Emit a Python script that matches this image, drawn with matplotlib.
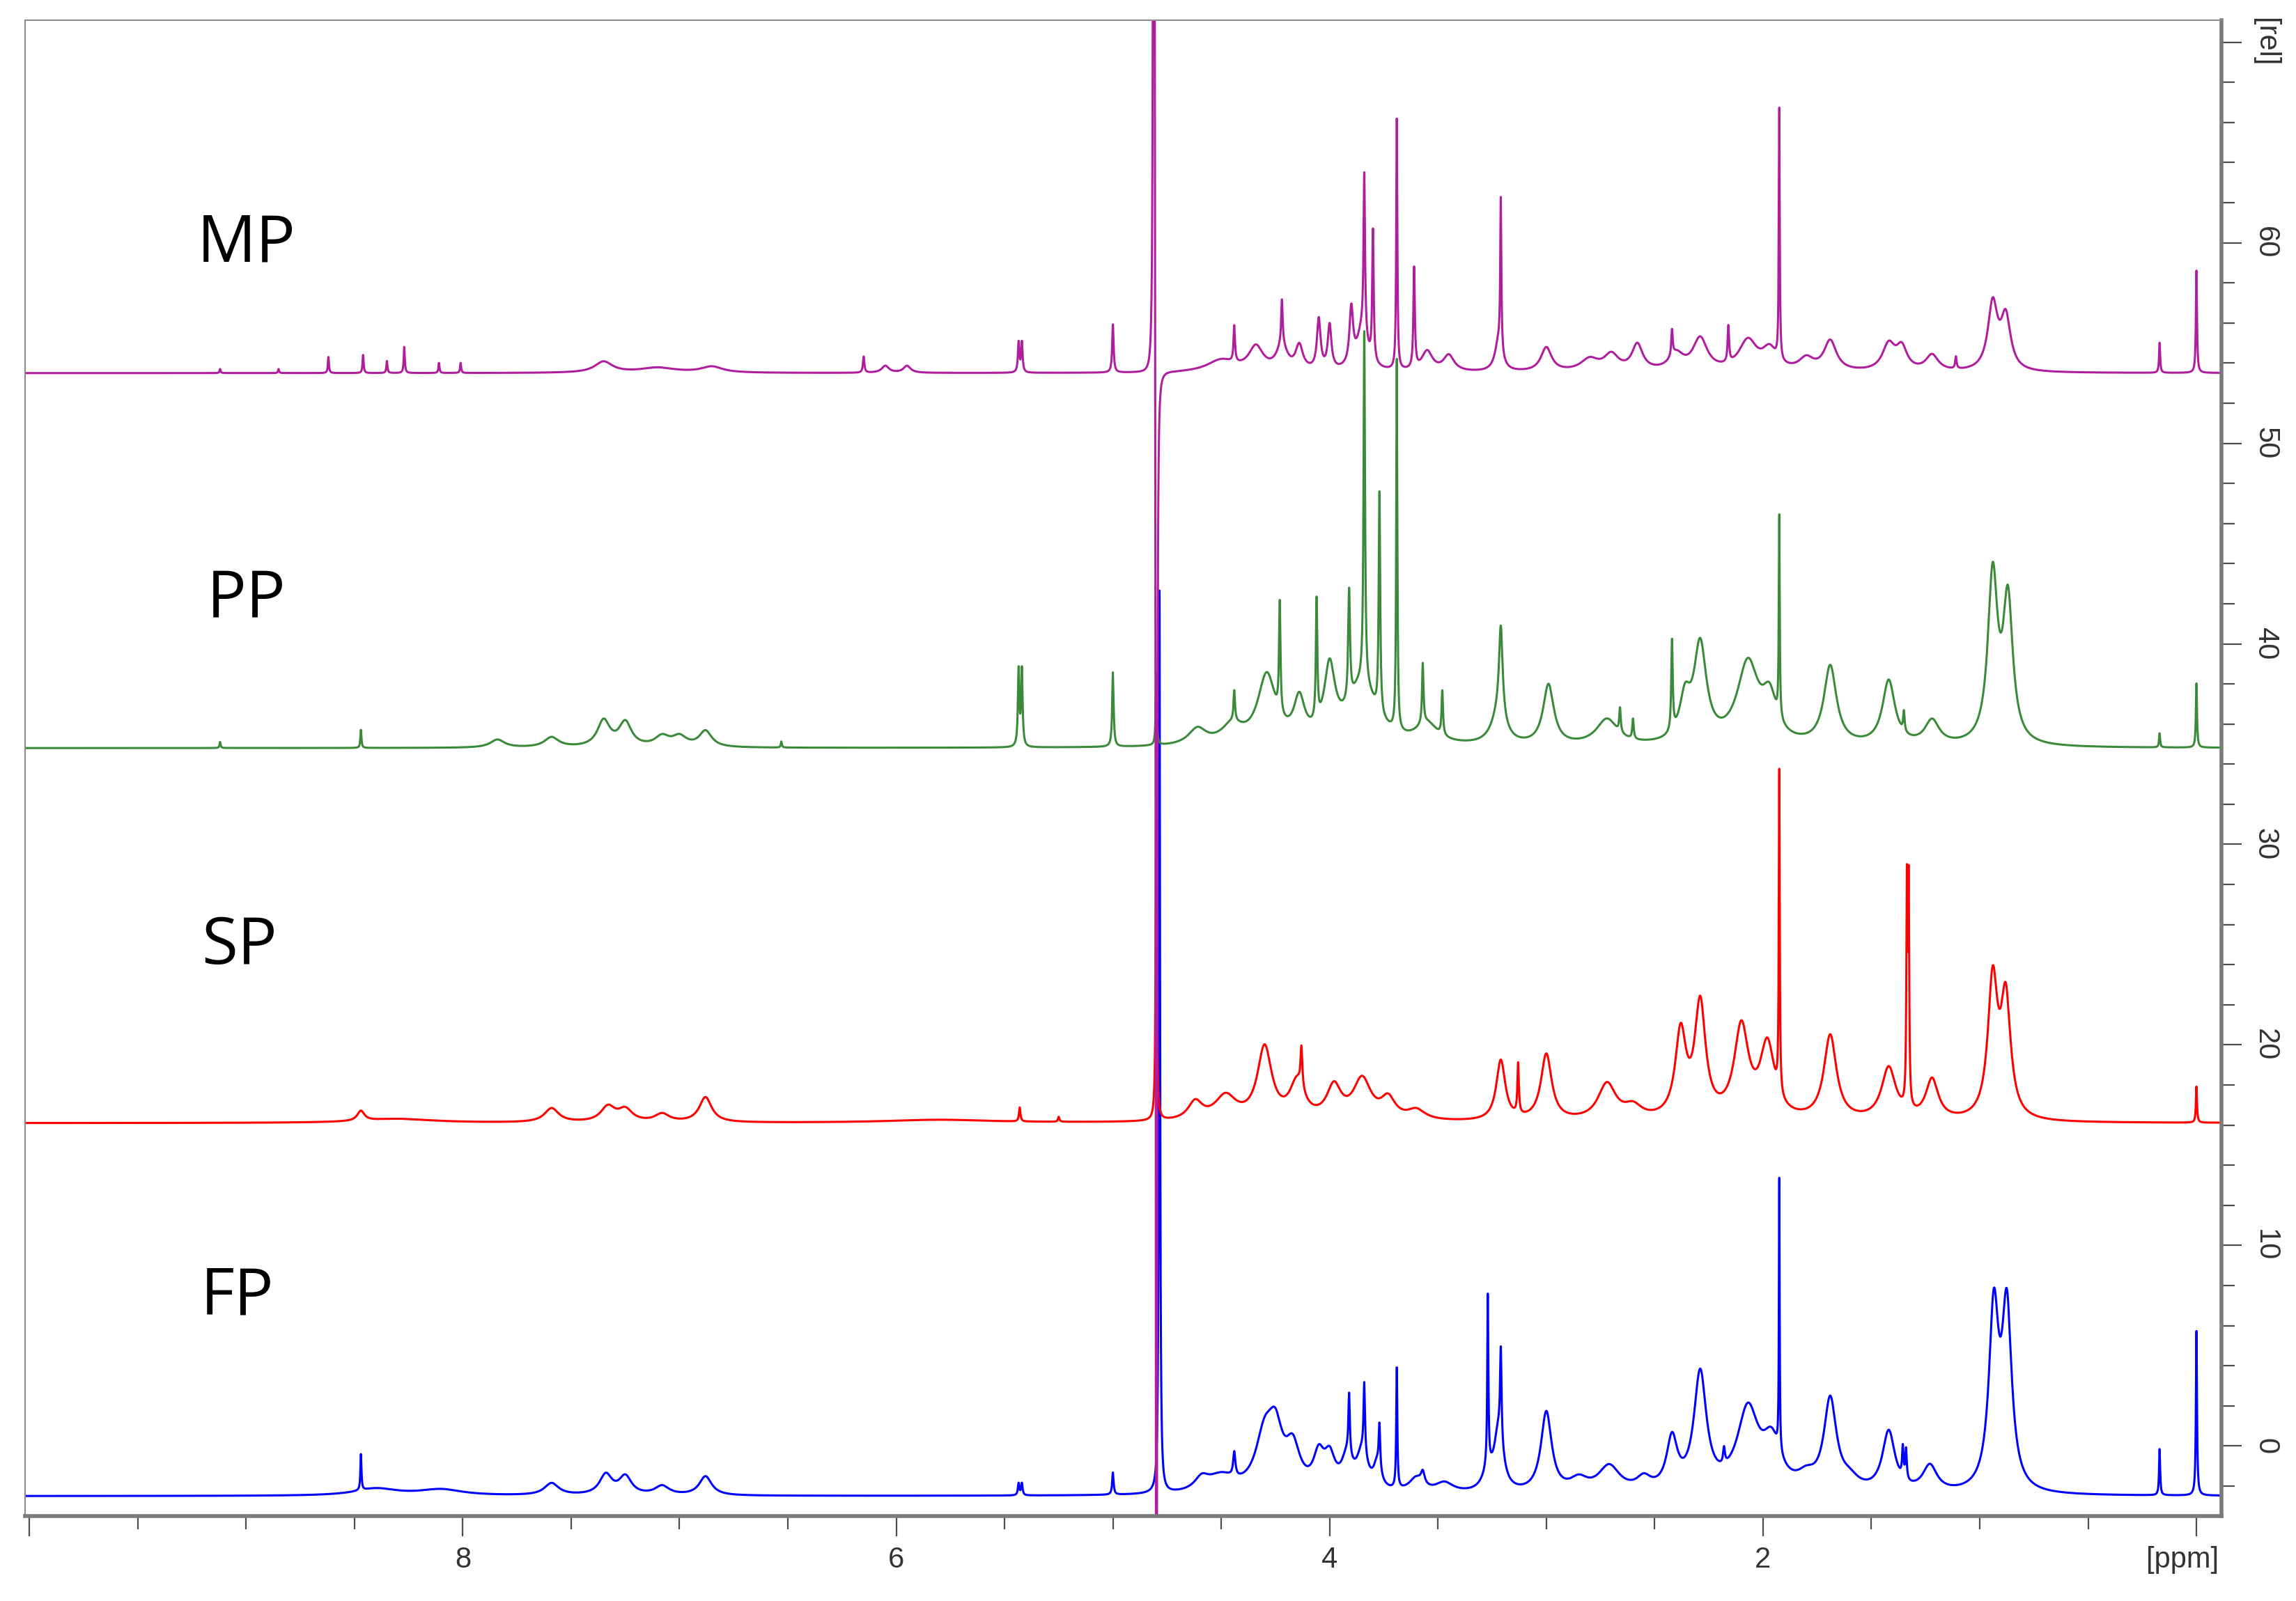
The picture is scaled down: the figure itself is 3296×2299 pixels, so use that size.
'''
Stacked 1H NMR spectra of four extracts (FP, SP, PP, MP) plotted on a
reversed ppm axis with a relative intensity scale on the right.
'''

import numpy as np
import matplotlib
matplotlib.use('Agg')
import matplotlib.pyplot as plt
import matplotlib.ticker as mtk
import matplotlib.transforms as mtr

# sample names, colours and vertical offsets of the stacked traces
samples = ['FP', 'SP', 'PP', 'MP']
colours = ['#0000ff', '#ff0000', '#3a8a3a', '#b01e9e']
offsets = [-2.5, 16.1, 34.8, 53.5]
label_ppm = [9.04, 9.03, 9.0, 9.0]
label_rel = [7.4, 24.9, 42.2, 59.9]

# peak tables: shift (ppm), height (rel), half width (ppm)
fp_ppm = [8.47, 8.40, 8.10, 7.59, 7.34, 7.25, 7.08, 6.88, 5.435, 5.42, 5.00,
          4.785, 4.59, 4.50, 4.44, 4.30, 4.25, 4.17, 4.05, 4.00, 3.92, 3.91,
          3.85, 3.84, 3.78, 3.77, 3.69, 3.60, 3.57, 3.47, 3.27, 3.27, 3.22,
          3.21, 3.00, 2.85, 2.71, 2.55, 2.42, 2.29, 2.18, 2.07, 1.96, 1.925,
          1.80, 1.69, 1.60, 1.42, 1.355, 1.34, 1.23, 0.935, 0.875, 0.17, 0.00]
fp_height = [1.8, 0.35, 0.3, 0.6, 1.0, 0.9, 0.45, 0.95, 0.6, 0.6, 1.1,
             45.0, 0.6, 0.8, 1.2, 2.6, 2.5, 2.0, 1.6, 1.5, 1.5, 3.0,
             1.8, 3.5, 1.2, 2.2, 6.0, 0.7, 0.6, 0.5, 0.8, 8.5, 3.0,
             4.5, 4.0, 0.6, 1.3, 0.6, 2.5, 5.8, 0.8, 4.0, 2.2, 13.5,
             0.6, 4.5, 0.5, 3.0, 1.5, 1.5, 1.3, 8.8, 8.8, 2.3, 8.2]
fp_width = [0.003, 0.12, 0.12, 0.04, 0.035, 0.035, 0.04, 0.035, 0.004, 0.004,
            0.004, 0.003, 0.04, 0.08, 0.006, 0.05, 0.04, 0.04, 0.03, 0.03,
            0.03, 0.004, 0.03, 0.004, 0.02, 0.004, 0.003, 0.04, 0.01, 0.05,
            0.03, 0.003, 0.025, 0.004, 0.03, 0.05, 0.06, 0.04, 0.03, 0.035,
            0.005, 0.06, 0.05, 0.002, 0.05, 0.035, 0.05, 0.035, 0.004, 0.004,
            0.04, 0.027, 0.027, 0.003, 0.003]

sp_ppm = [8.47, 8.30, 7.59, 7.33, 7.25, 7.08, 6.88, 5.80, 5.43, 5.25, 4.80,
          4.62, 4.48, 4.30, 4.15, 4.13, 3.98, 3.85, 3.73, 3.60, 3.21, 3.13,
          3.00, 2.72, 2.60, 2.38, 2.29, 2.10, 1.98, 1.925, 1.69, 1.42, 1.336,
          1.328, 1.22, 0.94, 0.88, 0.00]
sp_height = [0.5, 0.2, 0.7, 0.75, 0.6, 0.4, 1.25, 0.15, 0.7, 0.25, 18.0,
             0.9, 1.2, 3.6, 1.8, 2.0, 1.6, 2.0, 1.0, 0.5, 3.0, 2.5,
             3.3, 1.8, 0.6, 4.2, 5.6, 4.5, 3.6, 16.0, 4.2, 2.6, 10.8,
             10.8, 2.0, 6.8, 5.8, 1.8]
sp_width = [0.02, 0.2, 0.04, 0.04, 0.04, 0.04, 0.035, 0.3, 0.004, 0.004,
            0.003, 0.04, 0.06, 0.04, 0.04, 0.005, 0.04, 0.05, 0.04, 0.05,
            0.025, 0.004, 0.03, 0.05, 0.05, 0.03, 0.03, 0.04, 0.04, 0.0025,
            0.035, 0.04, 0.003, 0.003, 0.035, 0.027, 0.027, 0.003]

pp_ppm = [9.12, 8.47, 7.84, 7.59, 7.35, 7.25, 7.08, 7.00, 6.88, 6.53, 5.435,
          5.42, 5.00, 4.80, 4.61, 4.45, 4.44, 4.29, 4.23, 4.14, 4.06, 4.00,
          3.91, 3.85, 3.84, 3.77, 3.69, 3.57, 3.55, 3.48, 3.22, 3.21, 2.99,
          2.72, 2.66, 2.60, 2.42, 2.36, 2.29, 2.07, 1.97, 1.925, 1.69, 1.42,
          1.35, 1.22, 0.94, 0.87, 0.17, 0.00]
pp_height = [0.3, 0.9, 0.4, 0.5, 1.3, 1.2, 0.5, 0.5, 0.8, 0.3, 3.8,
             3.8, 3.7, 3.6, 0.8, 0.9, 1.5, 3.4, 5.5, 2.0, 6.0, 3.5,
             5.5, 3.0, 17.5, 11.0, 18.5, 3.0, 1.0, 2.2, 1.5, 4.5, 3.0,
             1.3, 1.2, 1.0, 4.5, 2.0, 4.8, 4.0, 2.0, 10.0, 3.9, 3.2,
             1.0, 1.2, 8.3, 7.0, 0.7, 3.2]
pp_width = [0.003, 0.003, 0.04, 0.04, 0.035, 0.035, 0.04, 0.04, 0.035, 0.003,
            0.004, 0.004, 0.004, 0.003, 0.05, 0.06, 0.004, 0.05, 0.004, 0.03,
            0.004, 0.03, 0.005, 0.08, 0.004, 0.004, 0.003, 0.004, 0.06, 0.004,
            0.04, 0.01, 0.03, 0.06, 0.004, 0.004, 0.004, 0.03, 0.035, 0.06,
            0.04, 0.0025, 0.035, 0.035, 0.004, 0.04, 0.027, 0.027, 0.003,
            0.003]

mp_ppm = [9.12, 8.85, 8.62, 8.46, 8.35, 8.27, 8.11, 8.01, 7.35, 7.10, 6.85,
          6.15, 6.05, 5.95, 5.435, 5.42, 5.00, 4.811, 4.799, 4.50, 4.44,
          4.34, 4.22, 4.22, 4.14, 4.05, 4.00, 3.90, 3.85, 3.84, 3.80, 3.69,
          3.61, 3.55, 3.45, 3.22, 3.21, 3.00, 2.80, 2.70, 2.58, 2.42, 2.40,
          2.29, 2.16, 2.07, 1.97, 1.925, 1.80, 1.69, 1.42, 1.36, 1.22, 1.11,
          0.94, 0.88, 0.17, 0.00]
mp_height = [0.2, 0.2, 0.8, 0.9, 0.6, 1.3, 0.5, 0.5, 0.55, 0.25, 0.3,
             0.8, 0.35, 0.35, 1.5, 1.5, 2.4, 150.0, -150.0, 0.6, 1.8,
             1.2, 2.2, 1.2, 1.2, 2.5, 2.2, 2.8, 2.0, 8.0, 6.5, 12.5,
             5.0, 1.0, 0.8, 1.5, 7.5, 1.2, 0.6, 0.8, 1.3, 1.3, 0.8,
             1.6, 1.8, 1.5, 1.0, 12.5, 0.6, 1.5, 1.3, 1.1, 0.8, 0.6,
             3.3, 2.6, 1.5, 5.1]
mp_width = [0.003, 0.003, 0.003, 0.003, 0.003, 0.003, 0.003, 0.003, 0.05, 0.1,
            0.06, 0.004, 0.02, 0.02, 0.004, 0.004, 0.004, 0.002, 0.002,
            0.08, 0.004, 0.04, 0.004, 0.03, 0.02, 0.01, 0.01, 0.01, 0.03,
            0.004, 0.004, 0.003, 0.004, 0.03, 0.03, 0.02, 0.003, 0.03, 0.05,
            0.04, 0.03, 0.004, 0.04, 0.04, 0.004, 0.05, 0.04, 0.0025, 0.04,
            0.035, 0.035, 0.03, 0.035, 0.004, 0.027, 0.027, 0.003, 0.003]

peak_tables = [(fp_ppm, fp_height, fp_width),
               (sp_ppm, sp_height, sp_width),
               (pp_ppm, pp_height, pp_width),
               (mp_ppm, mp_height, mp_width)]

# axis ticks
x_major = [10, 8, 6, 4, 2, 0]
x_labels = ['', '8', '6', '4', '2', '[ppm]']
y_major = [0, 10, 20, 30, 40, 50, 60, 70]
y_labels = ['0', '10', '20', '30', '40', '50', '60', '[rel]']


def spectrum(ppm, shifts, heights, widths):
    '''
    Build a trace as a sum of Lorentzian lines from a peak table.
    '''
    trace = np.zeros_like(ppm)
    for s, h, w in zip(shifts, heights, widths):
        trace += h / (1 + ((ppm - s) / w)**2)
    return trace


ppm = np.arange(-0.2, 10.2, 0.0005)

fig = plt.figure(figsize=(32.96, 22.99), dpi=100)
ax = fig.add_axes([0.0109, 0.053, 0.9566, 0.9344])

for name, c, off, tab in zip(samples, colours, offsets, peak_tables):
    ax.plot(ppm, off + spectrum(ppm, *tab), c=c, lw=2.2)

for name, x, y in zip(samples, label_ppm, label_rel):
    ax.text(x, y, name, fontsize=68, family=['Open Sans', 'DejaVu Sans'],
            ha='center', va='center', color='black')

ax.set_xlim(10.02, -0.115)
ax.set_ylim(-3.5, 71.1)

tick_font = ['Liberation Sans Narrow', 'Liberation Sans', 'DejaVu Sans']
ax.xaxis.set_major_locator(mtk.FixedLocator(x_major))
ax.xaxis.set_major_formatter(mtk.FixedFormatter(x_labels))
ax.xaxis.set_minor_locator(mtk.MultipleLocator(0.5))
ax.yaxis.tick_right()
ax.yaxis.set_major_locator(mtk.FixedLocator(y_major))
ax.yaxis.set_major_formatter(mtk.FixedFormatter(y_labels))
ax.yaxis.set_minor_locator(mtk.MultipleLocator(2))

ax.tick_params(axis='both', which='major', length=21, width=1.6,
               colors='#4d4d4d', labelsize=30, pad=10)
ax.tick_params(axis='both', which='minor', length=14, width=1.6,
               colors='#4d4d4d')
for lab in ax.get_xticklabels():
    lab.set_family(tick_font)
    lab.set_color('#333333')
# the unit label sits a little left of its tick
shift = mtr.ScaledTranslation(-0.2, 0, fig.dpi_scale_trans)
ppm_lab = ax.get_xticklabels()[-1]
ppm_lab.set_transform(ppm_lab.get_transform() + shift)
for lab in ax.get_yticklabels():
    lab.set_family(tick_font)
    lab.set_rotation(-90)
    lab.set_va('center')
    lab.set_color('#333333')

for side in ['top', 'left']:
    ax.spines[side].set_linewidth(1.5)
    ax.spines[side].set_color('#8c8c8c')
for side in ['bottom', 'right']:
    ax.spines[side].set_linewidth(4)
    ax.spines[side].set_color('#7a7a7a')

fig.savefig('out.png', dpi=100)
